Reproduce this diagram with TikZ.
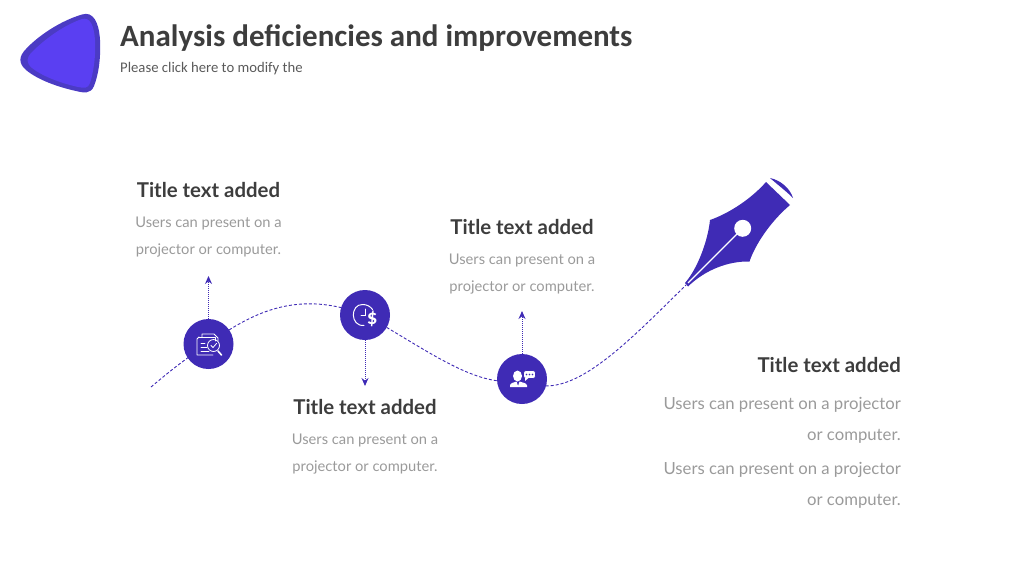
\documentclass[tikz,border=0pt]{standalone}
\usepackage{fontspec}
\setmainfont{Carlito}
\newfontfamily\labelfont{Lato}
\usepackage{tikz}
\usetikzlibrary{arrows.meta, backgrounds, positioning}
\definecolor{inkblue}{HTML}{3F2BB5}
\definecolor{shieldblue}{HTML}{5A3FF2}
\definecolor{shieldedge}{HTML}{4B3BC4}
\definecolor{darktext}{HTML}{3D3D3D}
\definecolor{softtext}{HTML}{9A9A9A}
\begin{document}
\begin{tikzpicture}[
    x=1pt, y=-1pt,
    node distance=10pt,
    stop/.style={circle, fill=inkblue, minimum size=50pt, inner sep=0pt},
    trail/.style={inkblue, densely dashed, line width=0.9pt},
    arrow/.style={inkblue, densely dotted, line width=1pt, -{Stealth[length=8pt, width=7pt]}},
    heading/.style={font=\labelfont\fontsize{20.4}{23}\selectfont\bfseries, text=darktext, inner sep=0pt},
    copytext/.style={font=\labelfont\fontsize{14.7}{27}\selectfont, text=softtext, align=center, inner sep=0pt},
    sidetext/.style={font=\labelfont\fontsize{16.7}{31}\selectfont, text=softtext, align=right, inner sep=0pt},
    icon/.style={white, line width=0.8pt, line cap=round, line join=round}
]
\useasboundingbox (0,0) rectangle (1024,576);
% Logo
\fill[shieldedge] (82,14.5) .. controls (93,11) and (99,22) .. (100,40) .. controls (101,60) and (98,76) .. (94,86) .. controls (91,94) and (84,93) .. (76,91) .. controls (58,87) and (38,80) .. (26,70) .. controls (18,63) and (19,56) .. (26,49) .. controls (38,36) and (60,21) .. (82,14.5) -- cycle;
\fill[shieldblue] (82,19) .. controls (90,17) and (94,25) .. (95,40) .. controls (96,58) and (93,74) .. (90,83) .. controls (88,89) and (84,88) .. (78,87) .. controls (60,83) and (42,76) .. (32,68) .. controls (26,63) and (26,58) .. (32,52) .. controls (44,40) and (62,26) .. (82,19) -- cycle;
% Header text
\node[anchor=base west, inner sep=0pt, font=\fontsize{31}{34}\selectfont\bfseries, text=darktext] (maintitle) at (120,46.5) {Analysis deficiencies and improvements};
\node[anchor=base west, inner sep=0pt, font=\fontsize{14.7}{16}\selectfont, text=darktext!85] (subtitle) at (120,72) {Please click here to modify the};
% Stops
\node[stop] (stopa) at (208.5,344) {};
\node[stop] (stopb) at (365,315) {};
\node[stop] (stopc) at (522,379) {};
\coordinate (start) at (151,387);
\coordinate (niptip) at (686,285);
% Trail
\begin{scope}[on background layer]
\draw[trail] (start) .. controls (170,371) and (190,355) .. (stopa.center);
\draw[trail] (stopa.center) .. controls (255,310) and (300,290) .. (stopb.center);
\draw[trail] (stopb.center) .. controls (425,348) and (480,392) .. (stopc.center);
\draw[trail] (stopc.center) .. controls (566,406) and (620,350) .. (niptip);
\end{scope}
% Arrows
\coordinate (topa) at (208.5,276);
\coordinate (topb) at (365,386);
\coordinate (topc) at (522,311);
\draw[arrow] (stopa) -- (topa);
\draw[arrow] (stopb) -- (topb);
\draw[arrow] (stopc) -- (topc);
% Text blocks
\node[heading] (titlea) at (208.5,190) {Title text added};
\node[copytext, below=19pt of titlea] (bodya) {Users can present on a\\projector or computer.};
\node[heading] (titlec) at (522,227) {Title text added};
\node[copytext, below=19pt of titlec] (bodyc) {Users can present on a\\projector or computer.};
\node[heading] (titleb) at (365,407) {Title text added};
\node[copytext, below=19pt of titleb] (bodyb) {Users can present on a\\projector or computer.};
\node[heading, anchor=east] (titled) at (901,365) {Title text added};
\node[sidetext, below left=24pt and 0pt of titled.south east] (bodyd) {Users can present on a projector\\or computer.};
\node[sidetext, below left=19pt and 0pt of bodyd.south east] (bodye) {Users can present on a projector\\or computer.};
% Nib
\fill[inkblue] (766,182) -- (790,205) .. controls (770,222) and (755,245) .. (749.5,261.5) .. controls (728,261) and (705,270) .. (688,286.5) -- (685,283) .. controls (698,268) and (708,240) .. (710,220) .. controls (730,213) and (752,198) .. (766,182) -- cycle;
\fill[inkblue] (770,178) .. controls (780,180) and (790,188) .. (793,198) .. controls (786,191) and (778,185) .. (770,178) -- cycle;
\fill[white] (742.7,228.3) circle (8.5);
\draw[white, line width=1.2pt] (742.7,228.3) -- (688,283);
% Icon one
\draw[icon] (199,337) -- (215,337) -- (215,341);
\draw[icon] (202,337) -- (202,334) -- (214,334) -- (218,338) -- (218,341);
\draw[icon] (213,355) -- (197,355) -- (197,339) -- (199,337);
\draw[icon] (201,343) -- (205,343) (201,347) -- (207,347) (201,351) -- (209,351);
\draw[icon] (213.5,345.5) circle (6);
\draw[icon] (211,345.5) -- (213,347.5) -- (216.5,343.5);
\draw[white, line width=1.6pt, line cap=round] (218,351) -- (221.5,355);
% Icon two
\draw[white, line width=1pt, line cap=round] (364,325.5) .. controls (350,326.5) and (350,304) .. (362.7,304.5) .. controls (367,304.5) and (370.5,306.5) .. (372.5,309.5);
\draw[white, line width=1pt, line cap=round] (365,309) -- (365,315) -- (361,315);
\node[font=\bfseries\fontsize{21}{21}\selectfont, text=white, inner sep=0pt] (dollar) at (372.3,319.3) {\$};
% Icon three
\fill[white] (517.5,376) ellipse (4.5 and 5.5);
\fill[white] (510,387) -- (510,385.5) .. controls (510,383) and (514,382.5) .. (516.5,381.5) -- (518,386) -- (519.5,381.5) .. controls (522,382.5) and (527,383) .. (527,385.5) -- (527,387) -- cycle;
\fill[white, draw=inkblue, line width=0.7pt, rounded corners=2.5pt] (523.5,370.5) rectangle (535.5,378.5);
\fill[white] (525,378) -- (525,381) -- (528.5,378) -- cycle;
\fill[inkblue] (526.5,374.5) circle (0.8) (529.5,374.5) circle (0.8) (532.5,374.5) circle (0.8);
\end{tikzpicture}
\end{document}
